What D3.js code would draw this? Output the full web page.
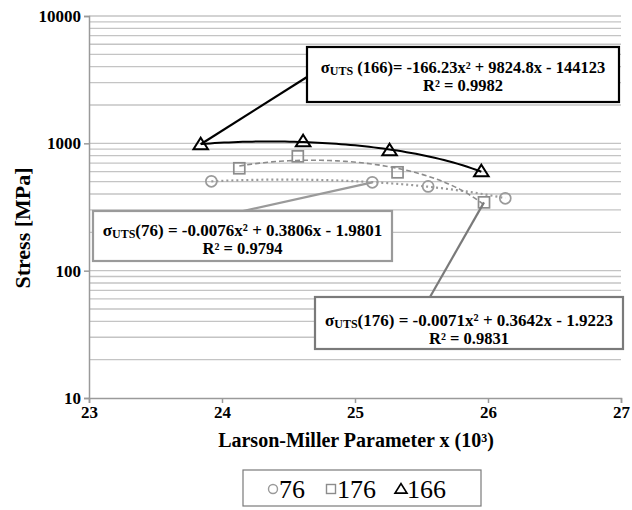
<!DOCTYPE html>
<html>
<head>
<meta charset="utf-8">
<script src="https://cdn.jsdelivr.net/npm/d3@7"></script>
<style>
  body { margin: 0; background: #fff; }
  text { font-family: "Liberation Serif", "Times New Roman", serif; }
</style>
</head>
<body>
<svg id="chart" width="632" height="510"></svg>
<script>
// data
const x76 = [23.92, 25.13, 25.55, 26.13];
const y76 = [503, 494, 459, 370];
const x176 = [24.13, 24.57, 25.32, 25.97];
const y176 = [637, 790, 592, 344];
const x166 = [23.84, 24.61, 25.26, 25.95];
const y166 = [983, 1037, 881, 603];

const xTicks = [23, 24, 25, 26, 27];
const yTicks = [10, 100, 1000, 10000];
const legendLabels = ["76", "176", "166"];

const eqTexts = [
    ["σ", "UTS", " (166)= -166.23x² + 9824.8x - 144123", "R² = 0.9982"],
    ["σ", "UTS", "(76) = -0.0076x² + 0.3806x - 1.9801", "R² = 0.9794"],
    ["σ", "UTS", "(176) = -0.0071x² + 0.3642x - 1.9223", "R² = 0.9831"]
];

const margin = {top: 16, left: 89, right: 11, bottom: 112};
const W = 632, H = 510;
const svg = d3.select("#chart");

const x = d3.scaleLinear().domain([23, 27]).range([margin.left, W - margin.right]);
const y = d3.scaleLog().domain([10, 10000]).range([H - margin.bottom, margin.top]);

// gridlines (log minors + majors)
let gridVals = [];
for (let d = 10; d < 10000; d *= 10) {
    for (let k = 1; k < 10; k++) gridVals.push(d * k);
}
gridVals.push(10000);
svg.append("g").selectAll("line")
    .data(gridVals.filter(v => v > 10))
    .enter().append("line")
    .attr("x1", x(23)).attr("x2", x(27))
    .attr("y1", d => y(d)).attr("y2", d => y(d))
    .style("stroke", "#c4c4c4")
    .style("stroke-width", 1.3);

// axes
const yAxis = svg.append("g")
    .attr("transform", `translate(${x(23)},0)`)
    .call(d3.axisLeft(y).tickValues(yTicks).tickFormat(d3.format("d")).tickSize(5).tickPadding(3));
const xAxis = svg.append("g")
    .attr("transform", `translate(0,${y(10)})`)
    .call(d3.axisBottom(x).tickValues(xTicks).tickFormat(d3.format("d")).tickSize(5).tickPadding(3));
[xAxis, yAxis].forEach(a => {
    a.select(".domain").style("stroke", "#9a9a9a").style("stroke-width", 1.5);
    a.selectAll(".tick line").style("stroke", "#9a9a9a").style("stroke-width", 1.5);
    a.selectAll("text")
        .style("font-family", "'Liberation Serif', serif")
        .style("font-size", "17px")
        .style("font-weight", "bold")
        .style("fill", "#000");
});

// axis titles
svg.append("text")
    .attr("transform", "translate(30,228) rotate(-90)")
    .attr("text-anchor", "middle")
    .style("font-size", "22px").style("font-weight", "bold")
    .text("Stress [MPa]");
svg.append("text")
    .attr("x", 356).attr("y", 447)
    .attr("text-anchor", "middle")
    .style("font-size", "20px").style("font-weight", "bold")
    .text("Larson-Miller Parameter x (10³)");

// quadratic least squares (trendline like the spreadsheet one)
function quadFit(xs, ys) {
    let s = Array(5).fill(0), t = Array(3).fill(0);
    xs.forEach((xv, i) => {
        const u = xv - 25;
        for (let p = 0; p < 5; p++) s[p] += Math.pow(u, p);
        for (let p = 0; p < 3; p++) t[p] += ys[i] * Math.pow(u, p);
    });
    // solve 3x3
    const A = [[s[0], s[1], s[2], t[0]], [s[1], s[2], s[3], t[1]], [s[2], s[3], s[4], t[2]]];
    for (let i = 0; i < 3; i++) {
        for (let j = i + 1; j < 3; j++) {
            const f = A[j][i] / A[i][i];
            for (let k = i; k < 4; k++) A[j][k] -= f * A[i][k];
        }
    }
    const c = [0, 0, 0];
    for (let i = 2; i >= 0; i--) {
        let v = A[i][3];
        for (let k = i + 1; k < 3; k++) v -= A[i][k] * c[k];
        c[i] = v / A[i][i];
    }
    return xv => c[0] + c[1] * (xv - 25) + c[2] * (xv - 25) * (xv - 25);
}

const series = [
    {xs: x76, ys: y76, color: "#9a9a9a", dash: "2,3", width: 2.2, shape: "circle"},
    {xs: x176, ys: y176, color: "#8c8c8c", dash: "5,3", width: 1.6, shape: "square"},
    {xs: x166, ys: y166, color: "#000", dash: null, width: 2, shape: "triangle"}
];

const line = d3.line().x(d => x(d[0])).y(d => y(d[1]));
series.forEach(s => {
    const f = quadFit(s.xs, s.ys);
    const x0 = d3.min(s.xs), x1 = d3.max(s.xs);
    const pts = d3.range(0, 61).map(i => {
        const xv = x0 + (x1 - x0) * i / 60;
        return [xv, f(xv)];
    });
    svg.append("path")
        .datum(pts)
        .attr("d", line)
        .style("fill", "none")
        .style("stroke", s.color)
        .style("stroke-width", s.width)
        .style("stroke-dasharray", s.dash);
});

function drawMarker(g, shape, cx, cy, color, size, sw) {
    if (shape === "circle") {
        g.append("circle").attr("cx", cx).attr("cy", cy).attr("r", size * 0.5)
            .style("fill", "none").style("stroke", color).style("stroke-width", sw);
    } else if (shape === "square") {
        const h = size * 0.5;
        g.append("rect").attr("x", cx - h).attr("y", cy - h).attr("width", 2 * h).attr("height", 2 * h)
            .style("fill", "none").style("stroke", color).style("stroke-width", sw);
    } else {
        const h = size * 0.6;
        g.append("path")
            .attr("d", `M${cx},${cy - h}L${cx + h * 1.1},${cy + h * 0.75}L${cx - h * 1.1},${cy + h * 0.75}Z`)
            .style("fill", "none").style("stroke", color).style("stroke-width", sw + 0.3);
    }
}

const markColors = ["#9a9a9a", "#8c8c8c", "#000"];
const markG = svg.append("g");
series.forEach((s, si) => {
    s.xs.forEach((xv, i) => {
        drawMarker(markG, s.shape, x(xv), y(s.ys[i]), markColors[si], 11, 1.7);
    });
});

// annotation boxes with leader lines
const boxes = [
    {x: 307, y: 47, w: 312, h: 55, color: "#000", target: [x166[0], y166[0]], from: [307, 77], base: [73, 91]},
    {x: 93, y: 211, w: 299, h: 50, color: "#9a9a9a", target: [x76[1], y76[1]], from: [243, 211], base: [236, 254]},
    {x: 315, y: 297, w: 308, h: 52, color: "#7a7a7a", target: [x176[3], y176[3]], from: [430, 297], base: [326, 344]}
];
boxes.forEach((b, i) => {
    svg.append("line")
        .attr("x1", b.from[0]).attr("y1", b.from[1])
        .attr("x2", x(b.target[0])).attr("y2", y(b.target[1]))
        .style("stroke", b.color).style("stroke-width", 2.2);
    svg.append("rect")
        .attr("x", b.x).attr("y", b.y).attr("width", b.w).attr("height", b.h)
        .style("fill", "#fff").style("stroke", b.color).style("stroke-width", 2.2);
    const cxm = b.x + b.w / 2;
    const t = svg.append("text")
        .attr("x", cxm).attr("y", b.base[0])
        .attr("text-anchor", "middle")
        .style("font-size", i === 0 ? "16.5px" : "17px").style("font-weight", "bold");
    t.append("tspan").text(eqTexts[i][0]);
    t.append("tspan").attr("dy", 2).style("font-size", "12px").text(eqTexts[i][1]);
    t.append("tspan").attr("dy", -2).text(eqTexts[i][2]);
    svg.append("text")
        .attr("x", cxm).attr("y", b.base[1])
        .attr("text-anchor", "middle")
        .style("font-size", "16.5px").style("font-weight", "bold")
        .text(eqTexts[i][3]);
});

// legend
const lg = svg.append("g");
lg.append("rect")
    .attr("x", 243).attr("y", 470).attr("width", 238).attr("height", 36)
    .style("fill", "#fff").style("stroke", "#7a7a7a").style("stroke-width", 1.2);
const legX = [273, 331, 401];
series.forEach((s, i) => {
    drawMarker(lg, s.shape, legX[i], 489, markColors[i], 9, 1.4);
    lg.append("text")
        .attr("x", legX[i] + 6).attr("y", 498)
        .style("font-size", "26px")
        .text(legendLabels[i]);
});
</script>
</body>
</html>
